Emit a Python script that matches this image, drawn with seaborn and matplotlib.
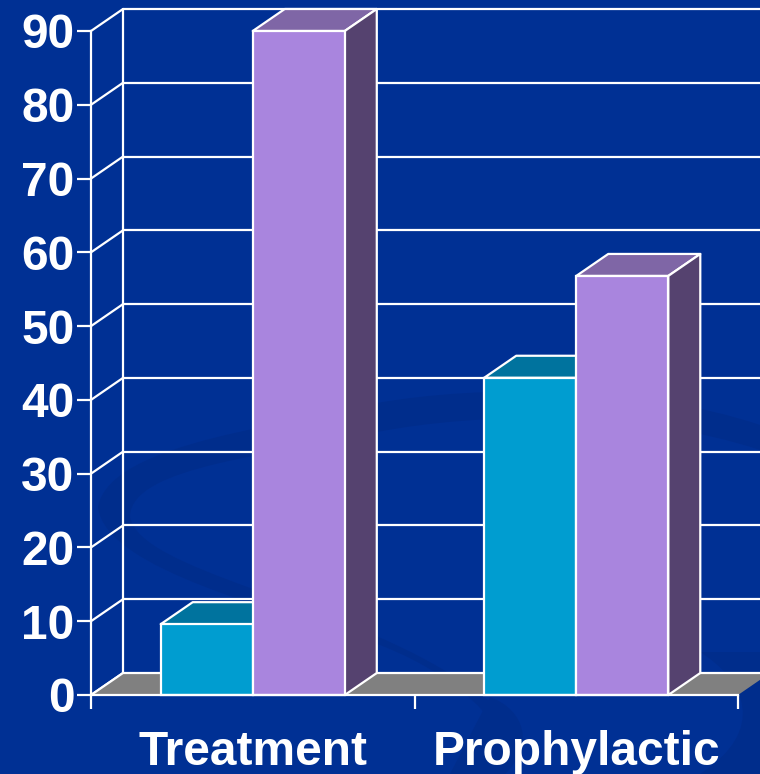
import matplotlib
matplotlib.use("Agg")
import matplotlib.pyplot as plt
from matplotlib.patches import Polygon, PathPatch
from matplotlib.path import Path
import seaborn as sns
import pandas as pd

categories = ["Treatment", "Prophylactic"]
blue_values = [9.6, 43]
purple_values = [90, 56.8]
y_ticks = [0, 10, 20, 30, 40, 50, 60, 70, 80, 90]

BG = "#003094"
BG_DARK = "#002D8C"
BLUE, BLUE_TOP = "#009DD0", "#00739E"
PURPLE, PURPLE_TOP, PURPLE_SIDE = "#A985DE", "#7F66A6", "#55426F"
FLOOR = "#808080"
W, H = 760, 774
DX_PX, DY_PX = 32, 22

df = pd.DataFrame({
    "cat": categories * 2,
    "series": ["a", "a", "b", "b"],
    "value": blue_values + purple_values,
})

sns.set_theme(style="white")
plt.rcParams["font.family"] = ["Liberation Sans", "DejaVu Sans"]

fig = plt.figure(figsize=(W / 100, H / 100), dpi=100, facecolor=BG)

# backdrop swirl, in pixel coords
bg = fig.add_axes([0, 0, 1, 1], zorder=0)
bg.set_xlim(0, W)
bg.set_ylim(H, 0)
bg.axis("off")
C = Path.CURVE4
swirl = Path(
    [(98, 507), (110, 440), (300, 425), (377, 403), (480, 385), (640, 385), (760, 425),
     (760, 450), (640, 410), (480, 412), (377, 432), (280, 455), (130, 465), (130, 517),
     (140, 570), (330, 600), (447, 672), (530, 720), (520, 750), (505, 774),
     (520, 740), (470, 680), (380, 645), (280, 610), (105, 570), (98, 507)],
    [Path.MOVETO] + [C] * 6 + [Path.LINETO] + [C] * 12 + [C] * 6,
)
bg.add_patch(PathPatch(swirl, fc=BG_DARK, ec="none"))
corner = Path([(700, 652), (745, 680), (768, 730), (700, 774), (760, 774), (760, 652), (700, 652)],
              [Path.MOVETO, C, C, C, Path.LINETO, Path.LINETO, Path.CLOSEPOLY])
bg.add_patch(PathPatch(corner, fc=BG_DARK, ec="none"))
low = Path([(490, 697), (525, 710), (535, 745), (505, 774), (450, 774), (490, 697)],
           [Path.MOVETO, C, C, C, Path.LINETO, Path.CLOSEPOLY])
bg.add_patch(PathPatch(low, fc=BG_DARK, ec="none"))

ax = fig.add_axes([91 / W, 1 - 695 / H, (738 - 91) / W, (695 - 31) / H], zorder=1)
ax.patch.set_alpha(0)

sns.barplot(data=df, x="cat", y="value", hue="series", palette=[BLUE, PURPLE],
            width=0.569, gap=0, saturation=1, legend=False, ax=ax,
            edgecolor="white", linewidth=1.6)
bars = sorted(ax.patches, key=lambda p: p.get_x())
ax.set_xlim(-0.5, 1.5)
ax.set_ylim(0, 90)
ax.set_xlabel("")
ax.set_ylabel("")

dx = DX_PX / (738 - 91) * 2
dy = DY_PX / (695 - 31) * 90
line = dict(ec="white", lw=1.6, clip_on=False, joinstyle="round")

# grid lines on back wall, plus the diagonal bits on the side wall
for t in y_ticks:
    ax.plot([-0.5, -0.5 + dx], [t, t + dy], color="white", lw=1.6, clip_on=False, zorder=2)
    if t > 0:
        ax.plot([-0.5 + dx, 1.5 + dx], [t + dy, t + dy], color="white", lw=1.6, clip_on=False, zorder=2)
ax.plot([-0.5 + dx, -0.5 + dx], [dy, 90 + dy], color="white", lw=1.6, clip_on=False, zorder=2)

# floor
ax.add_patch(Polygon([(-0.5, 0), (1.5, 0), (1.5 + dx, dy), (-0.5 + dx, dy)], fc=FLOOR, ec="none",
                     clip_on=False, zorder=2.5))
ax.plot([-0.5, -0.5 + dx, 1.5 + dx], [0, dy, dy], color="white", lw=1.6, clip_on=False, zorder=2.6)

# fake 3d faces on each bar, blue first so purple sits in front
for b in bars:
    x0, x1, h = b.get_x(), b.get_x() + b.get_width(), b.get_height()
    is_blue = b.get_facecolor()[0] < 0.2
    z = 3 if is_blue else 3.5
    b.set_zorder(z + 0.2)
    b.set_clip_on(False)
    ax.add_patch(Polygon([(x0, h), (x1, h), (x1 + dx, h + dy), (x0 + dx, h + dy)],
                         fc=BLUE_TOP if is_blue else PURPLE_TOP, zorder=z, **line))
    if not is_blue:
        ax.add_patch(Polygon([(x1, 0), (x1, h), (x1 + dx, h + dy), (x1 + dx, dy)],
                             fc=PURPLE_SIDE, zorder=z, **line))

ax.set_yticks(y_ticks)
ax.set_xticks([0, 1], categories)
ax.set_xticks([-0.5, 0.5, 1.5], minor=True)
ax.tick_params(axis="y", length=10, width=1.6, color="white", labelcolor="white", labelsize=34.5, pad=2, left=True)
ax.tick_params(axis="x", which="major", length=0, labelcolor="white", labelsize=34.5, pad=25)
ax.tick_params(axis="x", which="minor", length=10, width=1.6, color="white", bottom=True)
for lab in ax.get_xticklabels() + ax.get_yticklabels():
    lab.set_fontweight("bold")

sns.despine(ax=ax, top=True, right=True)
for side in ["left", "bottom"]:
    ax.spines[side].set_color("white")
    ax.spines[side].set_linewidth(1.6)
    ax.spines[side].set_zorder(6)

fig.savefig("out.png", dpi=100, facecolor=BG)
